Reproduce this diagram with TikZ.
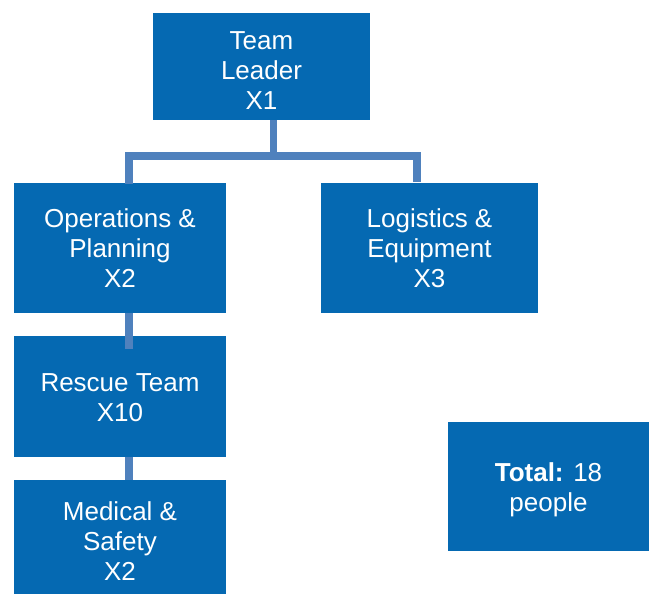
\documentclass[tikz,border=0pt]{standalone}
\usepackage{fontspec}
\setmainfont{Liberation Sans}
\definecolor{boxblue}{HTML}{0569B2}
\definecolor{linkblue}{HTML}{4F81BD}
\newcommand{\lowertext}[2]{\raisebox{-#1}[\height][\depth]{\parbox{180pt}{\centering #2}}}
\begin{document}
\begin{tikzpicture}[x=1pt,y=-1pt,
  orgbox/.style={fill=boxblue,draw=none,text=white,align=center,inner sep=0pt,
    font=\fontsize{26pt}{30pt}\selectfont},
  conn/.style={draw=linkblue,line width=7.5pt}]
\useasboundingbox (0,0) rectangle (649,594);
\node[orgbox,minimum width=217pt,minimum height=107pt] (tl) at (261.5,66.5) {\lowertext{4.5pt}{Team\\Leader\\X1}};
\node[orgbox,minimum width=212pt,minimum height=130pt] (ops) at (120,248) {Operations \&\\Planning\\X2};
\node[orgbox,minimum width=217pt,minimum height=130pt] (log) at (429.5,248) {Logistics \&\\Equipment\\X3};
\node[orgbox,minimum width=212pt,minimum height=121pt] (res) at (120,396.5) {\lowertext{1pt}{Rescue Team\\X10}};
\node[orgbox,minimum width=212pt,minimum height=114pt] (med) at (120,537) {\lowertext{4pt}{Medical \&\\Safety\\X2}};
\node[orgbox,minimum width=201pt,minimum height=129pt] (tot) at (548.5,486.5) {\lowertext{3pt}{\textbf{Total:} 18\\people}};
\coordinate (busL) at (129,156);
\coordinate (busR) at (417,156);
\draw[conn] ([xshift=12pt]tl.south) -- ([xshift=12pt]tl.south |- busL);
\draw[conn] ([yshift=-1pt]ops.north -| busL) -- (busL) -- (busR) -- ([yshift=1pt]log.north -| busR);
\draw[conn] ([xshift=9pt]ops.south) -- ([xshift=9pt,yshift=-13pt]res.north);
\draw[conn] ([xshift=9pt]res.south) -- ([xshift=9pt]med.north);
\end{tikzpicture}
\end{document}
